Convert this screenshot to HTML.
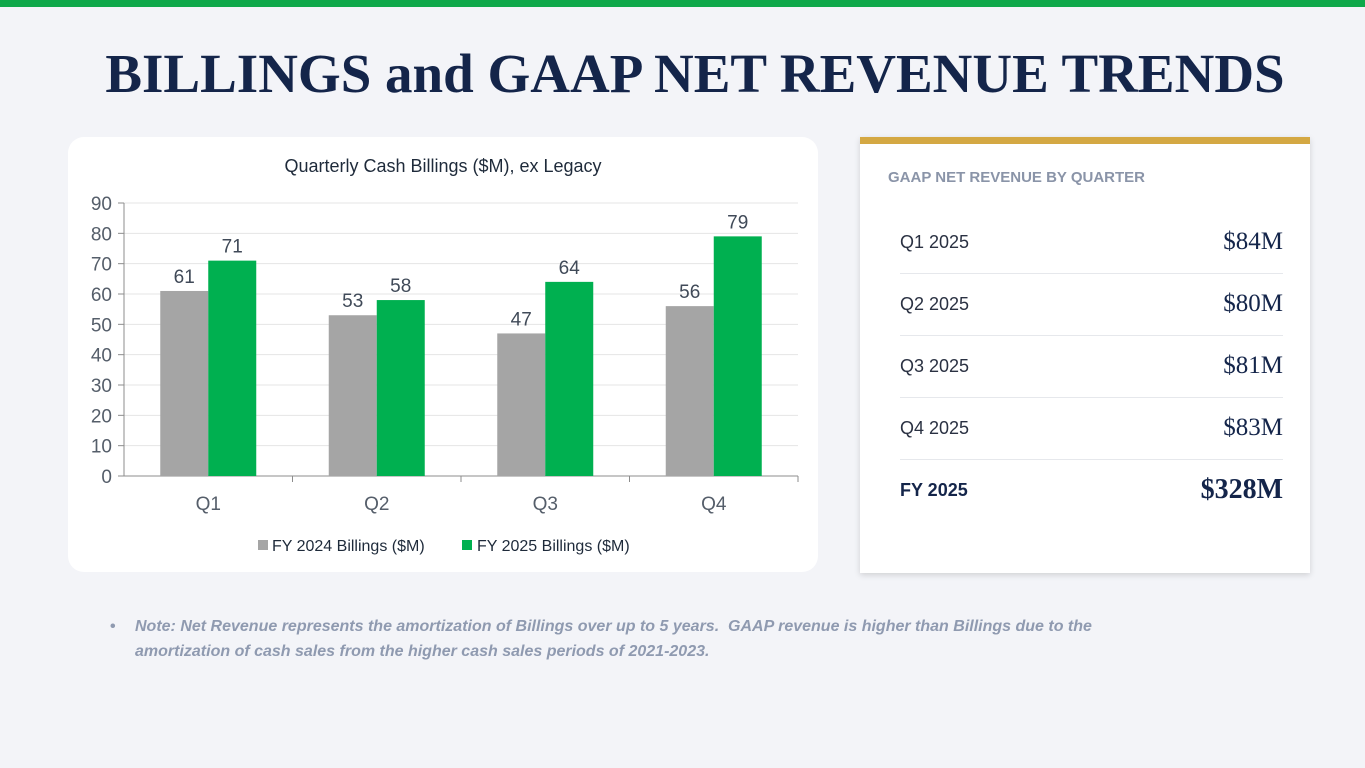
<!DOCTYPE html>
<html><head><meta charset="utf-8"><style>
body{margin:0;width:1365px;height:768px;background:#f3f4f8;font-family:"Liberation Sans",sans-serif;position:relative;overflow:hidden}
.abs{position:absolute}
</style></head><body>
<div class="abs" style="left:0;top:0;width:1365px;height:7px;background:#0fa84a"></div>
<div class="abs" style="left:0;width:1365px;top:42px;text-align:center;font-family:'Liberation Serif',serif;font-weight:bold;font-size:55px;color:#14254a;padding-left:25px;box-sizing:border-box;white-space:nowrap">BILLINGS and GAAP NET REVENUE TRENDS</div>

<div class="abs" style="left:68px;top:137px;width:750px;height:435px;background:#fff;border-radius:16px"></div>
<svg class="abs" style="left:0;top:0" width="1365" height="768" id="chart"></svg>

<div class="abs" style="left:860px;top:137px;width:450px;height:436px;background:#fff;box-shadow:0 2px 6px rgba(0,0,0,0.15)">
<div style="height:7px;background:#d4a843"></div>
<div style="position:absolute;left:28px;top:32px;font-size:15px;font-weight:bold;color:#8a94a8">GAAP NET REVENUE BY QUARTER</div>
<div id="rows"></div>
</div>

<div class="abs" style="left:110px;top:614px;width:1080px;font-size:16px;font-style:italic;font-weight:bold;color:#8f9ab0;line-height:25px">
<span style="position:absolute;left:0;top:0;font-style:normal">•</span>
<div style="margin-left:25px">Note: Net Revenue represents the amortization of Billings over up to 5 years.&nbsp; GAAP revenue is higher than Billings due to the amortization of cash sales from the higher cash sales periods of 2021-2023.</div></div>

<script>
const categories=["Q1","Q2","Q3","Q4"];
const fy2024=[61,53,47,56];
const fy2025=[71,58,64,79];
const yTicks=[0,10,20,30,40,50,60,70,80,90];
const revLabels=["Q1 2025","Q2 2025","Q3 2025","Q4 2025","FY 2025"];
const revValues=["$84M","$80M","$81M","$83M","$328M"];

const NS="http://www.w3.org/2000/svg";
const svg=document.getElementById("chart");
function mk(t,a,txt){const e=document.createElementNS(NS,t);for(const k in a)e.setAttribute(k,a[k]);if(txt!=null)e.textContent=txt;svg.appendChild(e);return e;}
const x0=124,x1=798,y0=476,y90=203;
const y=v=>y0-(v/90)*(y0-y90);
const cw=(x1-x0)/categories.length;
const bw=48;
let t=mk("text",{x:443,y:172,"text-anchor":"middle","font-size":18,fill:"#1e2a3a"},"Quarterly Cash Billings ($M), ex Legacy");

yTicks.forEach(v=>{
 let g=mk("line",{x1:x0,x2:x1,y1:y(v),y2:y(v),stroke:"#e4e4e4"});
 
 mk("line",{x1:x0-6,x2:x0,y1:y(v),y2:y(v),stroke:"#8c8c8c"});
 let l=mk("text",{x:x0-12,y:y(v)+7,"text-anchor":"end","font-size":19,fill:"#555e6a"},v);
 
});
mk("line",{x1:x0,x2:x0,y1:y90,y2:y0,stroke:"#8c8c8c"});
mk("line",{x1:x0,x2:x1,y1:y0,y2:y0,stroke:"#8c8c8c"});
categories.forEach((c,i)=>{
 const cx=x0+cw*(i+0.5);
 mk("line",{x1:x0+cw*(i+1),x2:x0+cw*(i+1),y1:y0,y2:y0+6,stroke:"#8c8c8c"});
 let b=mk("rect",{x:cx-bw,y:y(fy2024[i]),width:bw,height:y0-y(fy2024[i]),fill:"#a5a5a5"});
 
 let g=mk("rect",{x:cx,y:y(fy2025[i]),width:bw,height:y0-y(fy2025[i]),fill:"#00b050"});
 
 let a=mk("text",{x:cx-bw/2,y:y(fy2024[i])-8,"text-anchor":"middle","font-size":19,fill:"#404a58"},fy2024[i]);
 
 let b2=mk("text",{x:cx+bw/2,y:y(fy2025[i])-8,"text-anchor":"middle","font-size":19,fill:"#404a58"},fy2025[i]);
 
 let xl=mk("text",{x:cx,y:510,"text-anchor":"middle","font-size":19,fill:"#555e6a"},c);
 
});
let s1=mk("rect",{x:258,y:540,width:10,height:10,fill:"#a5a5a5"});
let t1=mk("text",{x:272,y:551,"font-size":16,fill:"#1e2a3a"},"FY 2024 Billings ($M)");
let s2=mk("rect",{x:462,y:540,width:10,height:10,fill:"#00b050"});
let t2=mk("text",{x:477,y:551,"font-size":16,fill:"#1e2a3a"},"FY 2025 Billings ($M)");

const rows=document.getElementById("rows");
revLabels.forEach((l,i)=>{
 const last=i===revLabels.length-1;
 const r=document.createElement("div");
 
 
 r.style.cssText=`position:absolute;left:40px;width:383px;top:${75+i*62}px;height:62px;${last?'':'border-bottom:1px solid #e6e8ec;'}box-sizing:border-box`;
 r.innerHTML=`<span style="position:absolute;left:0;top:20px;font-size:18px;color:#2a3142;${last?'font-weight:bold;color:#14254a':''}">${l}</span><span style="position:absolute;right:0;top:${last?14:16}px;font-family:'Liberation Serif',serif;font-size:${last?28:25}px;color:#14254a;${last?'font-weight:bold':''}">${revValues[i]}</span>`;
 rows.appendChild(r);
});
</script>
</body></html>
